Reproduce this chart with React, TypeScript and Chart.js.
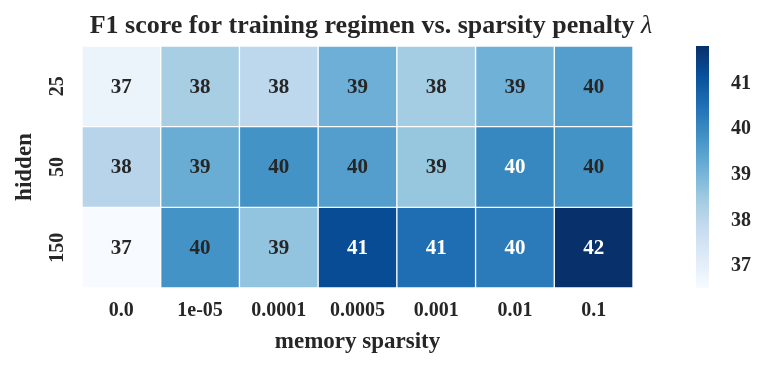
import React, { useEffect, useRef } from 'react';
import { Chart, registerables } from 'chart.js';
Chart.register(...registerables);

// ---- data ----
const sparsityLabels = ['0.0', '1e-05', '0.0001', '0.0005', '0.001', '0.01', '0.1'];
const hiddenLabels = ['25', '50', '150'];
const f1Hidden25 = [36.85, 38.35, 38.0, 39.15, 38.4, 39.1, 39.55];
const f1Hidden50 = [38.1, 39.2, 39.8, 39.55, 38.6, 40.05, 39.8];
const f1Hidden150 = [36.52, 39.8, 38.65, 41.25, 40.55, 40.3, 41.82];
const colorbarTicks = [37, 38, 39, 40, 41];
const vmin = 36.52;
const vmax = 41.82;

const rows = [f1Hidden25, f1Hidden50, f1Hidden150];

// matplotlib "Blues"
const BLUES = ['#f7fbff', '#deebf7', '#c6dbef', '#9ecae1', '#6baed6', '#4292c6', '#2171b5', '#08519c', '#08306b'];
const TEXT = '#262626';
const SERIF = '"Liberation Serif", "Times New Roman", serif';

function hexToRgb(h: string) {
  return [parseInt(h.slice(1, 3), 16), parseInt(h.slice(3, 5), 16), parseInt(h.slice(5, 7), 16)];
}
function bluesRgb(v: number) {
  let t = (v - vmin) / (vmax - vmin);
  t = Math.max(0, Math.min(1, t));
  const p = t * (BLUES.length - 1);
  const i = Math.min(BLUES.length - 2, Math.floor(p));
  const f = p - i;
  const a = hexToRgb(BLUES[i]);
  const b = hexToRgb(BLUES[i + 1]);
  return a.map((c, k) => Math.round(c + (b[k] - c) * f));
}
function blues(v: number) {
  const [r, g, b] = bluesRgb(v);
  return `rgb(${r},${g},${b})`;
}
function textColorFor(v: number) {
  const lin = bluesRgb(v).map((c) => {
    const s = c / 255;
    return s <= 0.03928 ? s / 12.92 : Math.pow((s + 0.055) / 1.055, 2.4);
  });
  const lum = 0.2126 * lin[0] + 0.7152 * lin[1] + 0.0722 * lin[2];
  return lum > 0.24 ? TEXT : '#ffffff';
}

const annotatePlugin = {
  id: 'annotate',
  afterDatasetsDraw(chart: any) {
    const ctx = chart.ctx;
    ctx.save();
    ctx.font = `bold 21px ${SERIF}`;
    ctx.textAlign = 'center';
    ctx.textBaseline = 'middle';
    chart.data.datasets.forEach((_ds: any, di: number) => {
      const meta = chart.getDatasetMeta(di);
      const vals = rows[di];
      meta.data.forEach((el: any, j: number) => {
        const { x, y, base } = el.getProps(['x', 'y', 'base'], true);
        ctx.fillStyle = textColorFor(vals[j]);
        ctx.fillText(String(Math.round(vals[j])), x, (y + base) / 2 + 1);
      });
    });
    ctx.restore();
  },
};

const titlePlugin = {
  id: 'mixedTitle',
  afterDraw(chart: any) {
    const ctx = chart.ctx;
    const main = 'F1 score for training regimen vs. sparsity penalty ';
    const sym = 'λ';
    ctx.save();
    ctx.fillStyle = TEXT;
    ctx.textBaseline = 'alphabetic';
    ctx.textAlign = 'left';
    ctx.font = `bold 26px ${SERIF}`;
    const w1 = ctx.measureText(main).width;
    ctx.font = `italic 26px ${SERIF}`;
    const w2 = ctx.measureText(sym).width;
    const x0 = chart.width / 2 - (w1 + w2) / 2;
    ctx.font = `bold 26px ${SERIF}`;
    ctx.fillText(main, x0, 33);
    ctx.font = `italic 26px ${SERIF}`;
    ctx.fillText(sym, x0 + w1, 33);
    ctx.restore();
  },
};

export default function App() {
  const mainRef = useRef<HTMLCanvasElement>(null);
  const cbRef = useRef<HTMLCanvasElement>(null);

  useEffect(() => {
    const main = new Chart(mainRef.current!, {
      type: 'bar',
      data: {
        labels: sparsityLabels,
        datasets: rows.map((vals, i) => ({
          label: hiddenLabels[i],
          data: sparsityLabels.map(() => [2 - i, 3 - i]),
          backgroundColor: vals.map(blues),
          borderColor: '#ffffff',
          borderWidth: 1,
          borderSkipped: false,
          barPercentage: 1,
          categoryPercentage: 1,
          grouped: false,
        })) as any,
      },
      options: {
        responsive: false,
        animation: false,
        devicePixelRatio: 1,
        layout: { padding: { top: 46, left: 0, right: 0, bottom: 0 } },
        plugins: { legend: { display: false }, tooltip: { enabled: false }, title: { display: false } },
        scales: {
          x: {
            grid: { display: false },
            border: { display: false },
            ticks: { color: TEXT, font: { family: SERIF, weight: 'bold', size: 20 }, padding: 3, maxRotation: 0 },
            title: {
              display: true,
              text: 'memory sparsity',
              color: TEXT,
              font: { family: SERIF, weight: 'bold', size: 23 },
              padding: { top: 0, bottom: 13 },
            },
            afterFit: (s: any) => { s.height = 81; },
          },
          y: {
            type: 'linear',
            min: 0,
            max: 3,
            grid: { display: false },
            border: { display: false },
            afterBuildTicks: (s: any) => { s.ticks = [0.5, 1.5, 2.5].map((v) => ({ value: v })); },
            ticks: {
              color: TEXT,
              font: { family: SERIF, weight: 'bold', size: 20 },
              padding: 1,
              minRotation: 90,
              maxRotation: 90,
              crossAlign: 'center',
              callback: (v: any) => hiddenLabels[2 - Math.floor(Number(v))],
            },
            title: {
              display: true,
              text: 'hidden',
              color: TEXT,
              font: { family: SERIF, weight: 'bold', size: 23 },
              padding: { top: 11, bottom: 0 },
            },
            afterFit: (s: any) => { s.width = 82; },
          },
          yR: {
            type: 'linear',
            position: 'right',
            display: true,
            grid: { display: false },
            border: { display: false },
            ticks: { display: false },
            afterFit: (s: any) => { s.width = 109; },
          },
        },
      } as any,
      plugins: [annotatePlugin, titlePlugin],
    });

    const cb = new Chart(cbRef.current!, {
      type: 'bar',
      data: {
        labels: [''],
        datasets: [
          {
            data: [[vmin, vmax]],
            backgroundColor: (c: any) => {
              const chart = c.chart;
              if (!chart.chartArea) return BLUES[4];
              const ys = chart.scales.y;
              const g = chart.ctx.createLinearGradient(0, ys.getPixelForValue(vmin), 0, ys.getPixelForValue(vmax));
              BLUES.forEach((col, k) => g.addColorStop(k / (BLUES.length - 1), col));
              return g;
            },
            borderWidth: 0,
            barPercentage: 1,
            categoryPercentage: 1,
          },
        ] as any,
      },
      options: {
        responsive: false,
        animation: false,
        devicePixelRatio: 1,
        layout: { padding: { top: 46, left: 36, right: 0, bottom: 81 } },
        plugins: { legend: { display: false }, tooltip: { enabled: false } },
        scales: {
          x: { display: false },
          y: {
            position: 'right',
            min: vmin,
            max: vmax,
            grid: { display: false },
            border: { display: false },
            afterBuildTicks: (s: any) => { s.ticks = colorbarTicks.map((v) => ({ value: v })); },
            ticks: { color: TEXT, font: { family: SERIF, weight: 'bold', size: 20 }, padding: 14 },
            afterFit: (s: any) => { s.width = 51; },
          },
        },
      } as any,
    });

    return () => {
      main.destroy();
      cb.destroy();
    };
  }, []);

  return (
    <div style={{ position: 'fixed', left: 0, top: 0, width: 760, height: 369, background: '#fff' }}>
      <canvas ref={mainRef} width={742} height={369} style={{ position: 'absolute', left: 0, top: 0, width: 742, height: 369 }} />
      <canvas ref={cbRef} width={100} height={369} style={{ position: 'absolute', left: 660, top: 0, width: 100, height: 369 }} />
    </div>
  );
}
